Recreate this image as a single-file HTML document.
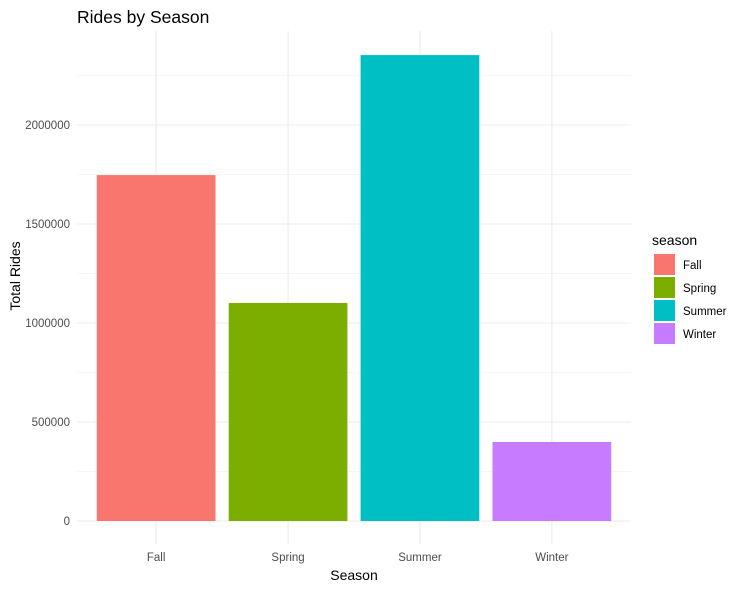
<!DOCTYPE html>
<html><head><meta charset="utf-8"><style>
body{margin:0;background:#fff;}
text{font-family:"Liberation Sans",sans-serif;}
</style></head><body>
<svg id="chart" width="744" height="590" xmlns="http://www.w3.org/2000/svg">
<text x="77" y="23" font-size="17.5" fill="#000">Rides by Season</text>
<g id="grid"></g><g id="bars"></g><g id="axes"></g>
<text x="354" y="580" font-size="14" text-anchor="middle" fill="#000">Season</text>
<text transform="translate(20,276) rotate(-90)" font-size="14" text-anchor="middle" fill="#000">Total Rides</text>
<g id="legend">
<text x="652" y="245" font-size="14" fill="#000">season</text>
</g>
</svg>
<script>
const categories=["Fall","Spring","Summer","Winter"];
const rides=[1747000,1101000,2353000,399000];
const colors=["#F8766D","#7CAE00","#00BFC4","#C77CFF"];
const yTicks=[0,500000,1000000,1500000,2000000];
const yTickLabels=["0","500000","1000000","1500000","2000000"];
const NS="http://www.w3.org/2000/svg";
const x0=77,x1=631,plotTop=31,plotBottom=544;
const band=(x1-x0)/4.2;
const xc=i=>x0+band*(0.6+i);
const y=v=>521-v*99/500000;
function mk(tag,attrs,parent){const e=document.createElementNS(NS,tag);for(const k in attrs)e.setAttribute(k,attrs[k]);document.getElementById(parent).appendChild(e);return e;}
for(let v=250000;v<2500000;v+=500000){const l=mk('line',{x1:x0,x2:x1,y1:y(v),y2:y(v),stroke:'#ebebeb','stroke-width':0.6},'grid');

}
yTicks.forEach((v,i)=>{const l=mk('line',{x1:x0,x2:x1,y1:y(v),y2:y(v),stroke:'#ebebeb','stroke-width':1.1},'grid');


const t=mk('text',{x:70,y:y(v)+4,'font-size':11.5,'text-anchor':'end',fill:'#4d4d4d'},'axes');t.textContent=yTickLabels[i];

});
categories.forEach((c,i)=>{const l=mk('line',{x1:xc(i),x2:xc(i),y1:plotTop,y2:plotBottom,stroke:'#ebebeb','stroke-width':1.1},'grid');


const w=band*0.9;
const r=mk('rect',{x:xc(i)-w/2,y:y(rides[i]),width:w,height:y(0)-y(rides[i]),fill:colors[i]},'bars');


const t=mk('text',{x:xc(i),y:561,'font-size':11.5,'text-anchor':'middle',fill:'#4d4d4d'},'axes');t.textContent=c;


const k=mk('rect',{x:654,y:254+i*23,width:21,height:21,fill:colors[i]},'legend');


const lt=mk('text',{x:683,y:269+i*23,'font-size':11.5,fill:'#000'},'legend');lt.textContent=c;

});
</script>
</body></html>
